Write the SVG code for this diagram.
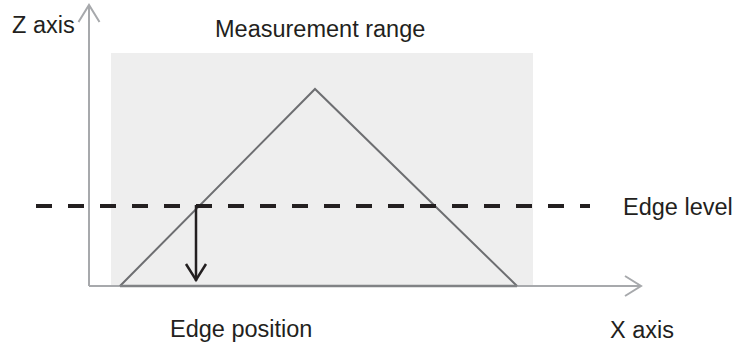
<svg xmlns="http://www.w3.org/2000/svg" width="734" height="343" viewBox="0 0 734 343">
<style>
.t{font-family:"Liberation Sans",Arial,sans-serif;font-size:23.5px;fill:#231f20}
.ax{stroke:#a7a9ac;stroke-width:2;fill:none}
.tri{stroke:#6d6e71;stroke-width:2;fill:none;stroke-linejoin:miter}
</style>
<rect id="range" x="111" y="53" width="422" height="233" fill="#eeeeee"/>
<g id="axes">
<path class="ax" d="M89,286 V5"/>
<path class="ax" d="M78.5,22 L89,5 L99.5,22"/>
<path class="ax" d="M89,286 H641"/>
<path class="ax" d="M625,276 L641,286 L625,296"/>
</g>
<g id="profile">
<path class="tri" d="M120,286 L315,89 L517,286"/>
<path d="M120,286 H517" stroke="#808285" stroke-width="2.5"/>
</g>
<g id="connectors">
<path d="M36,206 H590" stroke="#231f20" stroke-width="4" stroke-dasharray="16 16"/>
<path d="M196,205 V281" stroke="#231f20" stroke-width="2.5" fill="none"/>
<path d="M186,264 L196,280 L206,264" stroke="#231f20" stroke-width="2.5" fill="none"/>
</g>
<g id="labels">
<text class="t" x="12" y="33">Z axis</text>
<text class="t" x="215" y="36.5">Measurement range</text>
<text class="t" x="623" y="215">Edge level</text>
<text class="t" x="170" y="337">Edge position</text>
<text class="t" x="610" y="338">X axis</text>
</g>
</svg>
